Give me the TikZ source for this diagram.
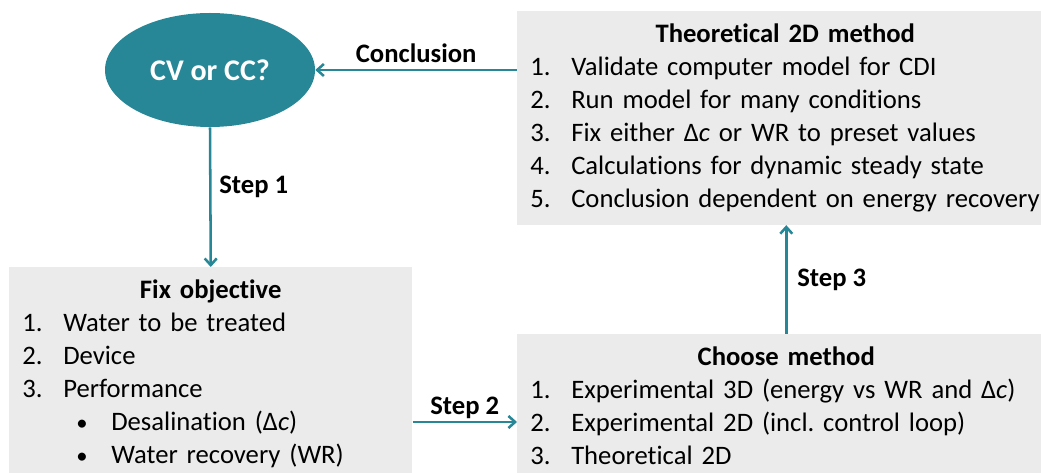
\documentclass[tikz,border=0pt]{standalone}
\usepackage{fontspec}
\setmainfont{Carlito}[Ligatures=NoCommon]
\usepackage{tikz}
\usetikzlibrary{
  arrows.meta,
  positioning,
  shapes.geometric
}
\definecolor{tealblue}{RGB}{39,135,151}
\definecolor{boxgray}{RGB}{235,235,235}
\newcommand{\numitem}[2]{\makebox[30.75pt][l]{#1}#2\par}
\newcommand{\bulitem}[1]{\hspace*{40.5pt}\makebox[26.25pt][l]{\fontsize{17}{17}\selectfont\textbullet}#1\par}
\newcommand{\dc}{Δ\textit{c}}
\frenchspacing

\begin{document}
\begin{tikzpicture}[x=0.75pt, y=-0.75pt,
  box/.style={fill=boxgray, anchor=north west, inner xsep=9.75pt, inner ysep=9.5pt,
    align=left, font=\fontsize{20}{24.75}\selectfont},
  arr/.style={draw=tealblue, line width=1.9pt, -{Straight Barb[length=5pt,width=9pt]}},
  lbl/.style={font=\fontsize{20}{22}\selectfont\bfseries}]
  \useasboundingbox (0,0) rectangle (1041,473);

  \node[ellipse, fill=tealblue, minimum width=157.5pt, minimum height=85.5pt, inner sep=0pt,
    text=white, font=\fontsize{22.5}{24}\selectfont\bfseries] (question) at (210,70) {CV or CC?};

  \node[box, text width=382.5pt] (theory) at (517,11) {%
    {\centering\bfseries Theoretical 2D method\par}
    \numitem{1.}{Validate computer model for CDI}
    \numitem{2.}{Run model for many conditions}
    \numitem{3.}{Fix either \dc{} or WR to preset values}
    \numitem{4.}{Calculations for dynamic steady state}
    \numitem{5.}{Conclusion dependent on energy recovery}};

  \node[box, text width=282.75pt] (objective) at (9,267) {%
    {\centering\bfseries Fix objective\par}
    \numitem{1.}{Water to be treated}
    \numitem{2.}{Device}
    \numitem{3.}{Performance}
    \bulitem{Desalination (\dc)}
    \bulitem{Water recovery (WR)}};

  \node[box, text width=384pt] (method) at (517,334) {%
    {\centering\bfseries Choose method\par}
    \numitem{1.}{Experimental 3D (energy vs WR and \dc)}
    \numitem{2.}{Experimental 2D (incl. control loop)}
    \numitem{3.}{Theoretical 2D}};

  \coordinate (stepii) at ([yshift=-116.25pt]objective.north east);

  \draw[arr] (question.east -| theory.west) -- (question.east)
    node[midway, above=1.5pt, lbl] {Conclusion};
  \draw[arr] (question.south) -- (objective.north)
    node[pos=0.43, right=2.5pt, lbl] {Step 1};
  \draw[arr] (stepii) -- (stepii -| method.west)
    node[midway, above=-2pt, lbl] {Step 2};
  \draw[arr] (method.north) -- (method.north |- theory.south)
    node[midway, right=4pt, lbl] {Step 3};
\end{tikzpicture}
\end{document}
